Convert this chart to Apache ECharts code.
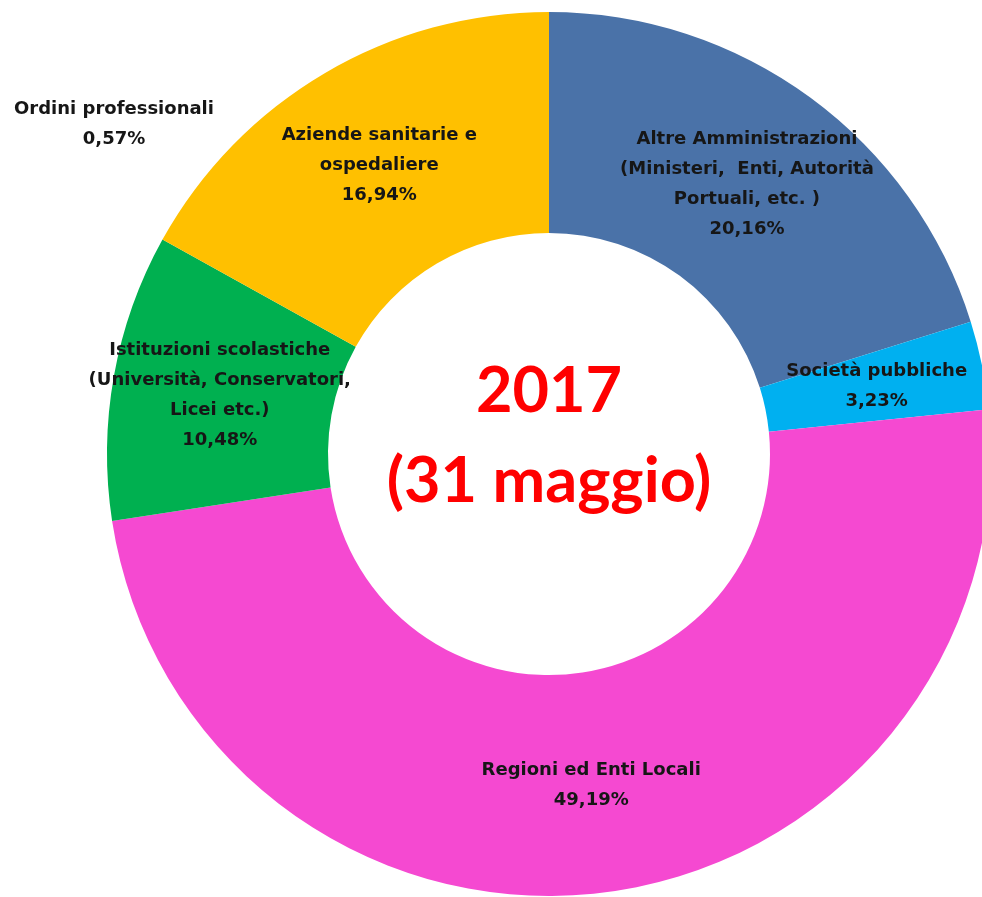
<!DOCTYPE html>
<html>
<head>
<meta charset="utf-8">
<script src="https://cdn.jsdelivr.net/npm/echarts@6/dist/echarts.min.js"></script>
<style>
html,body{margin:0;padding:0;background:#fff;}
#chart{width:982px;height:897px;}
</style>
</head>
<body>
<div id="chart"></div>
<script>
// Slice categories (clockwise from 12 o'clock) and their shares (%)
const categories = [
  'Altre Amministrazioni\n(Ministeri,  Enti, Autorità\nPortuali, etc. )',
  'Società pubbliche',
  'Regioni ed Enti Locali',
  'Istituzioni scolastiche\n(Università, Conservatori,\nLicei etc.)',
  'Aziende sanitarie e\nospedaliere'
];
const values = [20.16, 3.23, 49.19, 10.48, 16.94];
const colors = ['#4A72A8', '#00B0F0', '#F549D1', '#00B050', '#FFC000'];
// Category shown only as an outside label (no visible slice)
const extraCategory = 'Ordini professionali';
const extraValue = 0.57;
const centerTitle = ['2017', '(31 maggio)'];

function pct(v) { return v.toFixed(2).replace('.', ',') + '%'; }

const FONT_FAMILY = '"DejaVu Sans"';

const chart = echarts.init(document.getElementById('chart'), null, {renderer: 'canvas'});
chart.setOption({
  animation: false,
  backgroundColor: '#ffffff',
  series: [{
    type: 'pie',
    center: [549, 454],
    radius: [221, 442],
    startAngle: 90,
    clockwise: true,
    avoidLabelOverlap: false,
    silent: true,
    data: categories.map((c, i) => ({
      name: c,
      value: values[i],
      itemStyle: {color: colors[i]}
    })),
    label: {
      show: true,
      position: 'inside',
      align: 'center',
      fontFamily: FONT_FAMILY,
      fontWeight: 'bold',
      fontSize: 18,
      lineHeight: 30,
      color: '#161616',
      formatter: p => p.name + '\n' + pct(p.value)
    },
    labelLine: {show: false}
  }],
  graphic: [
    {
      type: 'text',
      x: 114, y: 124,
      style: {
        text: extraCategory + '\n' + pct(extraValue),
        align: 'center',
        verticalAlign: 'middle',
        fill: '#161616',
        font: 'bold 18px ' + FONT_FAMILY,
        lineHeight: 30
      }
    },
    {
      type: 'text',
      x: 549, y: 437,
      style: {
        text: centerTitle.join('\n'),
        align: 'center',
        verticalAlign: 'middle',
        fill: '#FF0000',
        font: 'bold 63px Lato',
        lineHeight: 90
      }
    }
  ]
});
</script>
</body>
</html>
